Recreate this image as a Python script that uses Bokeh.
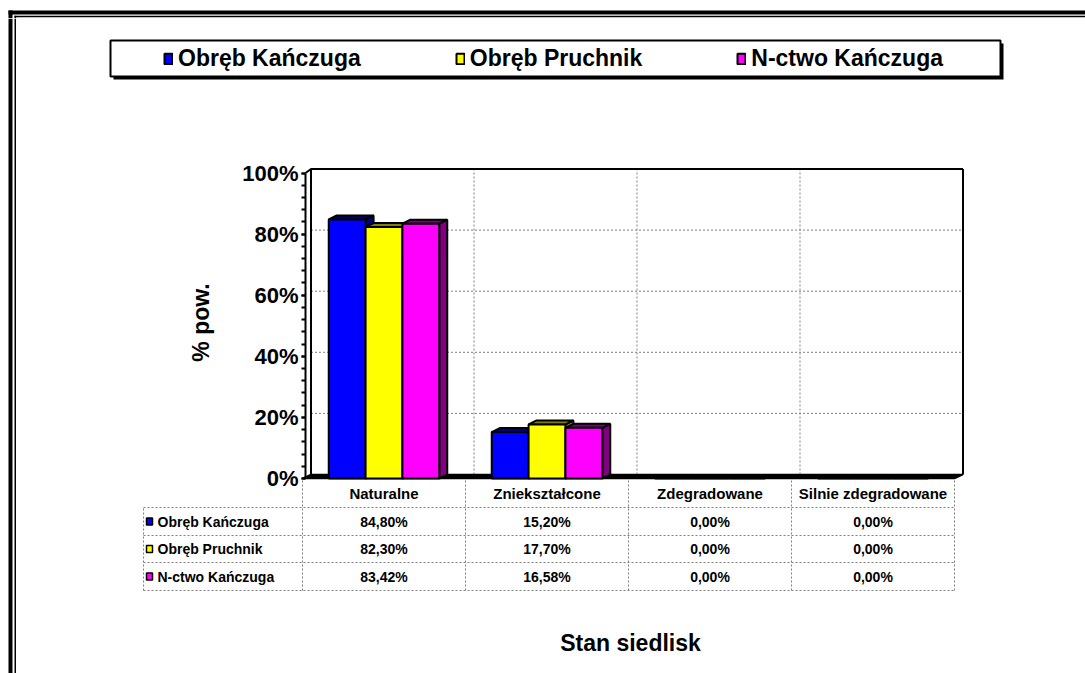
from math import pi
from bokeh.plotting import figure
from bokeh.layouts import column, row
from bokeh.models import (Range1d, SingleIntervalTicker, PrintfTickFormatter,
                          LinearAxis, Legend, LegendItem)
from bokeh.core.properties import value
from bokeh.embed import file_html
from bokeh.resources import INLINE

# ---------------- data ----------------
categories = ["Naturalne", "Zniekształcone", "Zdegradowane", "Silnie zdegradowane"]
series_names = ["Obręb Kańczuga", "Obręb Pruchnik", "N-ctwo Kańczuga"]
obreb_kanczuga = [84.80, 15.20, 0.00, 0.00]
obreb_pruchnik = [82.30, 17.70, 0.00, 0.00]
nctwo_kanczuga = [83.42, 16.58, 0.00, 0.00]
y_tick_step = 20
x_title = "Stan siedlisk"
y_title = "% pow."

series_values = [obreb_kanczuga, obreb_pruchnik, nctwo_kanczuga]
front_colors = ["#0000FF", "#FFFF00", "#FF00FF"]
dark_colors = ["#000080", "#808000", "#800080"]

FONT = "Liberation Sans"
BOLD = dict(text_font=value(FONT), text_font_style="bold", text_color="black")

# ---------------- page geometry (page px == canvas px) ----------------
CAT0, CATW = 302.0, 163.0      # page x of front plane category 0 start, px per category
Y0, PXPCT = 478.0, 3.055       # page y of 0 %, px per percent
PW, PH = 1085, 673


def X(px):
    return (px - CAT0) / CATW


def Y(py):
    return (Y0 - py) / PXPCT


def strip(width, height):
    f = figure(width=width, height=height, output_backend="svg", toolbar_location=None,
               x_axis_type=None, y_axis_type=None, min_border=0)
    f.outline_line_color = None
    f.background_fill_color = "white"
    f.border_fill_color = "white"
    return f


TS, LS = 18, 16   # top strip height, left strip width
# top strip: page y 0..18
top = strip(PW, TS)
top.x_range = Range1d(0, PW)
top.y_range = Range1d(TS, 0)
top.quad(left=[8, 14], right=[PW, PW], top=[10, 15.3], bottom=[14, 16.7],
         fill_color="black", line_color=None)
top.quad(left=[8, 14], right=[12, 15.7], top=[10, 15.3], bottom=[TS, TS],
         fill_color="black", line_color=None)

# left strip: page x 0..16
left = strip(LS, PH - TS)
left.x_range = Range1d(0, LS)
left.y_range = Range1d(PH, TS)
left.quad(left=[8, 14], right=[12, 15.7], top=[TS, TS], bottom=[PH, PH],
          fill_color="black", line_color=None)

# main figure
ML = 90
FL = LS + ML   # page x of frame left
p = figure(width=PW - LS, height=PH - TS, output_backend="svg", toolbar_location=None,
           x_axis_type=None, y_axis_type=None,
           x_range=Range1d(X(FL), X(PW)), y_range=Range1d(Y(PH), Y(TS)))
p.min_border_left = ML
p.min_border_right = 0
p.min_border_top = 0
p.min_border_bottom = 0
p.outline_line_color = None
p.background_fill_color = "white"
p.border_fill_color = "white"

ncat = len(categories)
dxw = 8.5 / CATW        # depth of the 3D box (back wall offset)
dxb = 8 / CATW          # bar depth
dy = 4 / PXPCT
wall_top = 100 + dy
ax_x = X(305)

# y axis (library axis at the front-left edge of the 3D box)
yax = LinearAxis(fixed_location=ax_x, bounds=(0, 100),
                 ticker=SingleIntervalTicker(interval=y_tick_step, num_minor_ticks=5),
                 formatter=PrintfTickFormatter(format="%d%%"))
yax.axis_line_width = 2
yax.major_tick_in = 0
yax.major_tick_out = 4
yax.minor_tick_in = 0
yax.minor_tick_out = 4
yax.major_tick_line_width = 2
yax.minor_tick_line_width = 2
yax.major_label_standoff = 3
yax.major_label_text_font = FONT
yax.major_label_text_font_style = "bold"
yax.major_label_text_font_size = "22px"
yax.major_label_text_color = "black"
p.add_layout(yax, "left")

grid_kw = dict(line_color="#808080", line_width=1, line_dash="2 2")

# gridlines on back wall (dotted)
gy = list(range(y_tick_step, 100, y_tick_step))
p.segment(x0=[dxw] * len(gy), x1=[ncat + dxw] * len(gy),
          y0=[v + dy for v in gy], y1=[v + dy for v in gy], **grid_kw)
gx = [i + dxw for i in range(1, ncat)]
p.segment(x0=gx, x1=gx, y0=[dy] * len(gx), y1=[wall_top] * len(gx), **grid_kw)

# data table grid
row_edges = [Y(478), Y(507), Y(535), Y(562), Y(590)]
tbl_left = X(143)
cx = list(range(0, ncat + 1))
p.segment(x0=cx, x1=cx, y0=[row_edges[-1]] * len(cx), y1=[row_edges[0]] * len(cx), **grid_kw)
p.segment(x0=[tbl_left], x1=[tbl_left], y0=[row_edges[-1]], y1=[row_edges[1]], **grid_kw)
p.segment(x0=[tbl_left] * 4, x1=[ncat] * 4, y0=row_edges[1:], y1=row_edges[1:], **grid_kw)

# 3D box: walls and floor
p.line(x=[ax_x, dxw, ncat + dxw], y=[100, wall_top, wall_top], line_color="black", line_width=2)
p.line(x=[ncat + dxw, ncat + dxw], y=[wall_top, dy], line_color="black", line_width=2)
p.line(x=[dxw, dxw], y=[wall_top, dy], line_color="black", line_width=2)
p.patch(x=[0, ncat, ncat + dxw, dxw], y=[0, 0, dy, dy], fill_color="black",
        line_color="black", line_width=1.5)

# bars
bar_w = 0.226
renderers = []
for k, (vals, fc, dc) in enumerate(zip(series_values, front_colors, dark_colors)):
    xc = [i + 0.5 + (k - 1) * bar_w for i in range(ncat)]
    xs_side, ys_side, xs_top, ys_top = [], [], [], []
    for x, v in zip(xc, vals):
        if v <= 0:
            continue
        xl, xr = x - bar_w / 2, x + bar_w / 2
        xs_side.append([xr, xr + dxb, xr + dxb, xr])
        ys_side.append([0, dy, v + dy, v])
        xs_top.append([xl, xl + dxb, xr + dxb, xr])
        ys_top.append([v, v + dy, v + dy, v])
    p.patches(xs_side, ys_side, fill_color=dc, line_color="black", line_width=2)
    p.patches(xs_top, ys_top, fill_color=dc, line_color="black", line_width=2)
    r = p.vbar(x=xc, top=vals, bottom=0, width=bar_w, fill_color=fc,
               line_color="black", line_width=2)
    renderers.append(r)

# ---------------- legend (top box) ----------------
LB_L, LB_T, LB_R, LB_B = 110, 40, 1000, 76
p.quad(left=[X(LB_L + 3)], right=[X(LB_R + 3)], top=[Y(LB_T + 3)], bottom=[Y(LB_B + 3)],
       fill_color="black", line_color=None)
p.quad(left=[X(LB_L)], right=[X(LB_R)], top=[Y(LB_T)], bottom=[Y(LB_B)],
       fill_color="white", line_color="black", line_width=2)
legend = Legend(items=[LegendItem(label=n, renderers=[r]) for n, r in zip(series_names, renderers)],
                location=(163 - FL, PH - 72), orientation="horizontal",
                glyph_width=10, glyph_height=13, label_standoff=5, spacing=94,
                padding=0, margin=0, border_line_color=None, background_fill_alpha=0,
                label_text_font=FONT, label_text_font_style="bold",
                label_text_font_size="23px", label_text_color="black")
p.add_layout(legend)

# ---------------- data table texts ----------------
hdr_y = (row_edges[0] + row_edges[1]) / 2
p.text(x=[i + 0.5 for i in range(ncat)], y=[hdr_y] * ncat, text=categories,
       text_font_size=value("15px"), text_align="center", text_baseline="middle", **BOLD)

for j, (n, vals, fc) in enumerate(zip(series_names, series_values, front_colors)):
    yc = (row_edges[j + 1] + row_edges[j + 2]) / 2
    p.quad(left=[X(146)], right=[X(152)], top=[yc + 3.5 / PXPCT], bottom=[yc - 3.5 / PXPCT],
           fill_color=fc, line_color="black", line_width=1.5)
    p.text(x=[X(157)], y=[yc], text=[n], text_font_size=value("14px"),
           text_align="left", text_baseline="middle", **BOLD)
    p.text(x=[i + 0.5 for i in range(ncat)], y=[yc] * ncat,
           text=[f"{v:.2f}".replace(".", ",") + "%" for v in vals],
           text_font_size=value("14px"), text_align="center", text_baseline="middle", **BOLD)

# axis titles
p.text(x=[X(200)], y=[Y(322)], text=[y_title], angle=pi / 2, text_font_size=value("23px"),
       text_align="center", text_baseline="middle", **BOLD)
p.text(x=[X(630)], y=[Y(642)], text=[x_title], text_font_size=value("23px"),
       text_align="center", text_baseline="middle", **BOLD)

layout = column(top, row(left, p, spacing=0), spacing=0)
open("out.html", "w").write(file_html(layout, INLINE))
